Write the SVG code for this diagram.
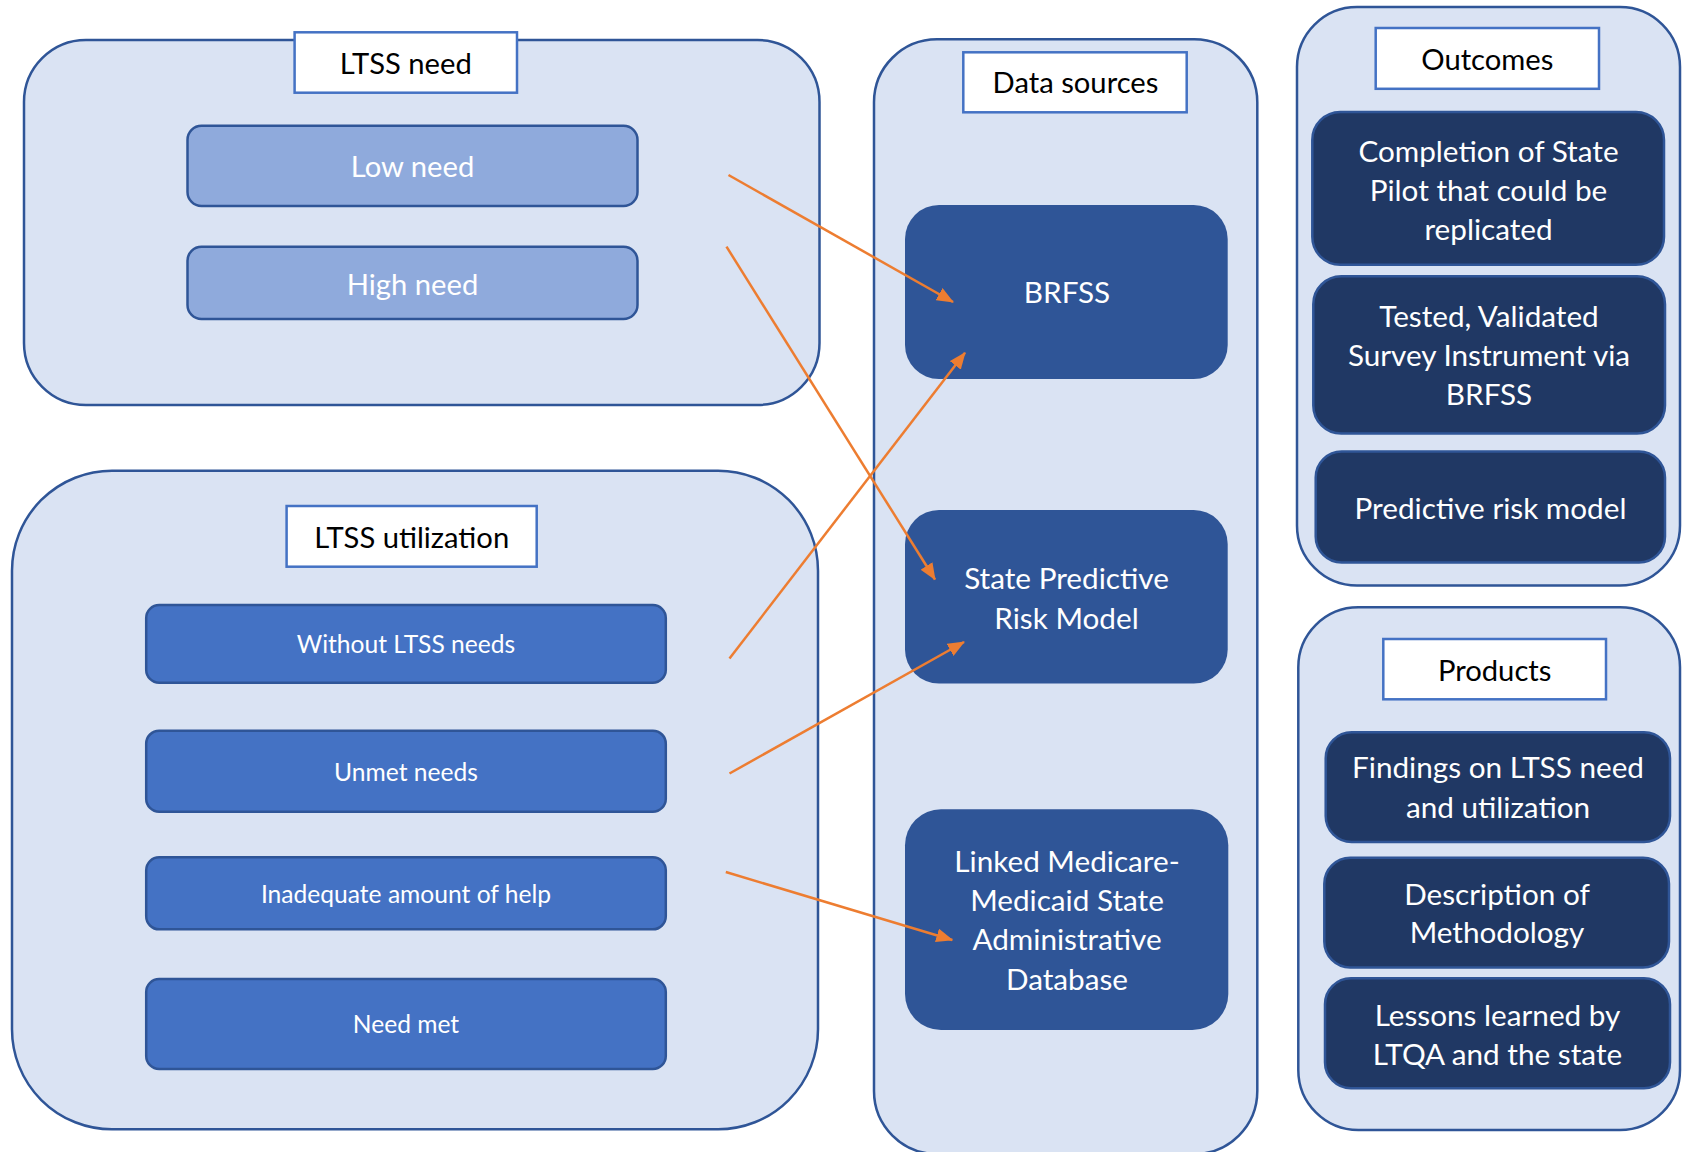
<svg xmlns="http://www.w3.org/2000/svg" width="1682" height="1152" viewBox="0 0 1682 1152">
<defs>
<style>
.panel{fill:#DAE3F3;stroke:#2F5597;stroke-width:2.5}
.title{fill:#FFFFFF;stroke:#4472C4;stroke-width:2.5}
.need{fill:#8FAADC;stroke:#2F5597;stroke-width:2.5}
.util{fill:#4472C4;stroke:#2F5597;stroke-width:2.5}
.src{fill:#2F5597}
.out{fill:#203864;stroke:#2F5597;stroke-width:2.5}
text{font-family:Lato,"Liberation Sans",sans-serif;text-anchor:middle}
.tt{fill:#000000;font-size:29.2px}
.wn{fill:#FFFFFF;font-size:29.2px}
.wt{fill:#FFFFFF;font-size:29.7px}
.ws{fill:#FFFFFF;font-size:24.6px}
.conn{stroke:#ED7D31;stroke-width:2.5;fill:none;marker-end:url(#ah)}
</style>
<marker id="ah" markerUnits="userSpaceOnUse" markerWidth="17" markerHeight="14" refX="16" refY="7" orient="auto">
<path d="M0,0 L17,7 L0,14 z" fill="#ED7D31"/>
</marker>
</defs>
<rect width="1682" height="1152" fill="#FFFFFF"/>

<g id="ltss-need">
<rect class="panel" x="24" y="40" width="795.5" height="365" rx="62" ry="62"/>
<rect class="title" x="294.6" y="32.3" width="222.4" height="60.4"/>
<text class="tt" x="405.8" y="74">LTSS need</text>
</g>
<g id="low-need">
<rect class="need" x="187.5" y="125.7" width="450" height="80.3" rx="14"/>
<text class="wn" x="412.5" y="176.5">Low need</text>
</g>
<g id="high-need">
<rect class="need" x="187.5" y="246.7" width="450" height="72.3" rx="14"/>
<text class="wn" x="412.5" y="295">High need</text>
</g>

<g id="ltss-utilization">
<rect class="panel" x="12" y="470.7" width="806" height="658.6" rx="100" ry="100"/>
<rect class="title" x="286.6" y="506" width="250.1" height="60.7"/>
<text class="tt" x="411.7" y="547.7">LTSS utilization</text>
</g>
<g id="without-ltss-needs">
<rect class="util" x="146.2" y="605" width="519.6" height="77.7" rx="13"/>
<text class="ws" x="406" y="652.5">Without LTSS needs</text>
</g>
<g id="unmet-needs">
<rect class="util" x="146.2" y="730.7" width="519.6" height="81" rx="13"/>
<text class="ws" x="406" y="780.5">Unmet needs</text>
</g>
<g id="inadequate-help">
<rect class="util" x="146.2" y="857.3" width="519.6" height="72" rx="13"/>
<text class="ws" x="406" y="902.5">Inadequate amount of help</text>
</g>
<g id="need-met">
<rect class="util" x="146.2" y="979" width="519.6" height="90" rx="13"/>
<text class="ws" x="406" y="1033">Need met</text>
</g>

<g id="data-sources">
<rect class="panel" x="874" y="39.3" width="383.3" height="1114.7" rx="63" ry="63"/>
<rect class="title" x="963.3" y="52.3" width="223.4" height="60"/>
<text class="tt" x="1075.5" y="93.3">Data sources</text>
</g>
<g id="brfss">
<rect class="src" x="905" y="205" width="322.7" height="174" rx="34"/>
<text class="wt" x="1067" y="302.7">BRFSS</text>
</g>
<g id="state-predictive-risk-model">
<rect class="src" x="905" y="510" width="322.7" height="173.6" rx="34"/>
<text class="wt" x="1066.5" y="589.3">State Predictive</text>
<text class="wt" x="1066.5" y="629">Risk Model</text>
</g>
<g id="linked-database">
<rect class="src" x="905" y="809.2" width="323.3" height="220.8" rx="36"/>
<text class="wt" x="1067" y="872.2">Linked Medicare-</text>
<text class="wt" x="1067" y="911.3">Medicaid State</text>
<text class="wt" x="1067" y="950.4">Administrative</text>
<text class="wt" x="1067" y="989.5">Database</text>
</g>

<g id="outcomes">
<rect class="panel" x="1297" y="7" width="383" height="578.5" rx="60" ry="60"/>
<rect class="title" x="1375.7" y="28" width="223.3" height="60.8"/>
<text class="tt" x="1487.3" y="70">Outcomes</text>
</g>
<g id="completion-state-pilot">
<rect class="out" x="1312.3" y="112" width="351.7" height="152.8" rx="28"/>
<text class="wt" x="1488.5" y="162">Completion of State</text>
<text class="wt" x="1488.5" y="201">Pilot that could be</text>
<text class="wt" x="1488.5" y="240">replicated</text>
</g>
<g id="tested-survey">
<rect class="out" x="1313.3" y="276.3" width="351.7" height="157.3" rx="28"/>
<text class="wt" x="1489" y="327.2">Tested, Validated</text>
<text class="wt" x="1489" y="366.4">Survey Instrument via</text>
<text class="wt" x="1489" y="405">BRFSS</text>
</g>
<g id="predictive-risk-model">
<rect class="out" x="1315.7" y="451.6" width="349.3" height="111" rx="26"/>
<text class="wt" x="1490.5" y="518.5">Predictive risk model</text>
</g>

<g id="products">
<rect class="panel" x="1298.3" y="607.2" width="381.7" height="522.8" rx="60" ry="60"/>
<rect class="title" x="1383.3" y="639" width="222.7" height="60.3"/>
<text class="tt" x="1494.7" y="680.7">Products</text>
</g>
<g id="findings">
<rect class="out" x="1325.7" y="732.3" width="344.3" height="109.7" rx="26"/>
<text class="wt" x="1498" y="778.2">Findings on LTSS need</text>
<text class="wt" x="1498" y="818.3">and utilization</text>
</g>
<g id="methodology">
<rect class="out" x="1324.3" y="857.7" width="344.7" height="109.7" rx="26"/>
<text class="wt" x="1497" y="905.4">Description of</text>
<text class="wt" x="1497" y="943">Methodology</text>
</g>
<g id="lessons">
<rect class="out" x="1325" y="978.2" width="345" height="110" rx="26"/>
<text class="wt" x="1497.5" y="1025.5">Lessons learned by</text>
<text class="wt" x="1497.5" y="1065">LTQA and the state</text>
</g>

<g id="connectors">
<path class="conn" d="M728.5,175 L953,302"/>
<path class="conn" d="M726.5,246.7 L935,579.5"/>
<path class="conn" d="M729.5,658.5 L965,352.7"/>
<path class="conn" d="M729.5,773.5 L964,642"/>
<path class="conn" d="M725.8,872 L952.3,940"/>
</g>
</svg>
